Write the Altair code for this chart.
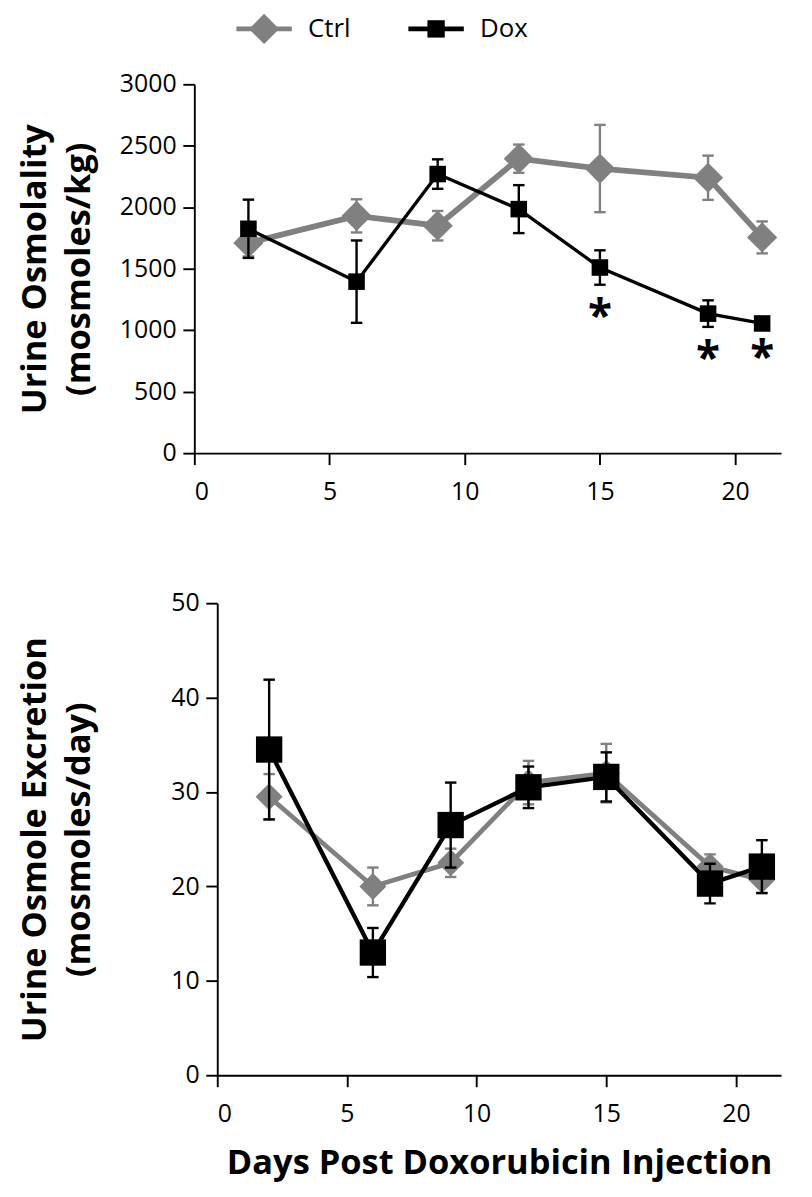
import altair as alt
import pandas as pd

FONT = "Open Sans"

days = [2, 6, 9, 12, 15, 19, 21]
series_names = ["Ctrl", "Dox"]
series_colors = ["#808080", "#000000"]
series_shapes = ["diamond", "square"]

x_ticks = [0, 5, 10, 15, 20]

# Urine osmolality (mosmoles/kg), mean and error
osm_ctrl = [1710, 1930, 1850, 2395, 2315, 2240, 1755]
osm_ctrl_err = [110, 135, 120, 115, 355, 180, 130]
osm_dox = [1825, 1395, 2270, 1985, 1510, 1135, 1055]
osm_dox_err = [237, 335, 120, 195, 140, 108, 25]
osm_ticks = [0, 500, 1000, 1500, 2000, 2500, 3000]
osm_sig_days = [15, 19, 21]

# Urine osmole excretion (mosmoles/day), mean and error
exc_ctrl = [29.5, 20.0, 22.5, 31.0, 32.0, 22.1, 20.7]
exc_ctrl_err = [2.4, 2.0, 1.5, 2.3, 3.1, 1.3, 1.4]
exc_dox = [34.5, 13.0, 26.5, 30.5, 31.6, 20.3, 22.1]
exc_dox_err = [7.4, 2.6, 4.5, 2.2, 2.6, 2.1, 2.8]
exc_ticks = [0, 10, 20, 30, 40, 50]


def make_df(ctrl, ctrl_err, dox, dox_err):
    rows = []
    for s, vals, errs in (("Ctrl", ctrl, ctrl_err), ("Dox", dox, dox_err)):
        for d, v, e in zip(days, vals, errs):
            rows.append({"day": d, "series": s, "value": v, "lo": v - e, "hi": v + e})
    return pd.DataFrame(rows)


def panel(df, xmax, ymax, yticks, ytitle, width, height, title_pad, styles,
          shift=0, xtitle=None, sig_days=None):
    xaxis = alt.Axis(values=x_ticks, title=xtitle, format="d")
    yaxis = alt.Axis(values=yticks, title=ytitle, titlePadding=title_pad, format="d",
                     offset=shift)
    xs = alt.Scale(domain=[0, xmax], nice=False, zero=False, range=[-shift, width])
    ys = alt.Scale(domain=[0, ymax], nice=False)
    xenc = alt.X("day:Q", scale=xs, axis=xaxis)

    def yenc(field):
        return alt.Y(field + ":Q", scale=ys, axis=yaxis)

    layers = []
    for s, col, shp in zip(series_names, series_colors, series_shapes):
        st = styles[s]
        sub = alt.Chart(df).transform_filter(alt.datum.series == s)
        layers.append(sub.mark_rule(color=col, strokeWidth=st["ew"]).encode(
            x=xenc, y=yenc("lo"), y2="hi:Q"))
        for f in ("lo", "hi"):
            layers.append(sub.mark_tick(orient="horizontal", color=col, size=st["cap"],
                                        thickness=st["ew"], opacity=1).encode(x=xenc, y=yenc(f)))
        layers.append(sub.mark_line(color=col, strokeWidth=st["lw"]).encode(x=xenc, y=yenc("value")))
        layers.append(sub.mark_point(shape=shp, size=st["ps"], filled=True, opacity=1,
                                     color=col).encode(x=xenc, y=yenc("value")))
    if sig_days:
        expr = "datum.series == 'Dox' && indexof([%s], datum.day) >= 0" % ",".join(str(d) for d in sig_days)
        stars = alt.Chart(df).transform_filter(expr).mark_text(
            text="*", font=FONT, fontSize=46, fontWeight="bold", color="black",
            dy=34, baseline="middle").encode(x=xenc, y=yenc("lo"))
        layers.append(stars)
    return alt.layer(*layers).properties(width=width, height=height)


osm_df = make_df(osm_ctrl, osm_ctrl_err, osm_dox, osm_dox_err)
exc_df = make_df(exc_ctrl, exc_ctrl_err, exc_dox, exc_dox_err)

top_styles = {"Ctrl": {"ew": 2.5, "cap": 12, "lw": 6, "ps": 1000},
              "Dox": {"ew": 2.5, "cap": 12, "lw": 3.5, "ps": 300}}
bot_styles = {"Ctrl": {"ew": 2.5, "cap": 12, "lw": 5, "ps": 800},
              "Dox": {"ew": 2.5, "cap": 12, "lw": 4.5, "ps": 760}}

top = panel(osm_df, 21.7, 3000, osm_ticks, ["Urine Osmolality", "(mosmoles/kg)"],
            590, 386, 23, top_styles, shift=24, sig_days=osm_sig_days)
bottom = panel(exc_df, 21.74, 50, exc_ticks, ["Urine Osmole Excretion", "(mosmoles/day)"],
               590, 494, 77, bot_styles, xtitle="Days Post Doxorubicin Injection")

# legend row
legend_df = pd.DataFrame({"series": series_names})
lx = alt.X("series:N", scale=alt.Scale(type="point", domain=series_names, range=[49, 229],
                                       padding=0), axis=None)
lcol = alt.Color("series:N", scale=alt.Scale(domain=series_names, range=series_colors), legend=None)
lshape = alt.Shape("series:N", scale=alt.Scale(domain=series_names, range=series_shapes), legend=None)
lsize = alt.Size("series:O", scale=alt.Scale(domain=series_names, range=[1000, 330]), legend=None)
lbase = alt.Chart(legend_df)
legend = alt.layer(
    lbase.mark_tick(orient="horizontal", size=58, thickness=5, opacity=1).encode(x=lx, color=lcol),
    lbase.mark_point(filled=True, opacity=1).encode(x=lx, color=lcol, shape=lshape, size=lsize),
    lbase.mark_text(align="left", baseline="middle", dx=46, fontSize=27, font=FONT,
                    color="black").encode(x=lx, text="series:N"),
).properties(width=560, height=2)

chart = alt.vconcat(
    legend,
    alt.vconcat(top, bottom, spacing=91),
    spacing=29,
).properties(
    padding={"left": 10, "top": -22, "right": 0, "bottom": 0}
).configure_view(stroke=None).configure_axis(
    grid=False,
    domainColor="black", domainWidth=2,
    tickColor="black", tickWidth=2, tickSize=12,
    labelFont=FONT, labelFontSize=26, labelColor="black", labelPadding=7,
    titleFont=FONT, titleFontSize=36, titleFontWeight="bold", titleColor="black",
    titleLineHeight=46,
).configure_axisX(labelPadding=15, titlePadding=22)

chart.save("out.html", embed_options={"renderer": "svg", "actions": False})
